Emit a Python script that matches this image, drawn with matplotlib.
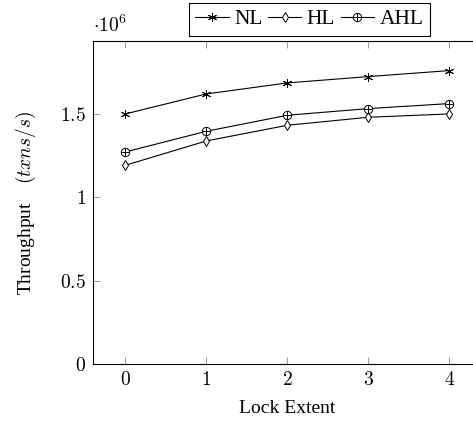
import matplotlib
matplotlib.use("Agg")
import matplotlib.pyplot as plt

plt.rcParams['font.family'] = ['Liberation Serif', 'DejaVu Serif']
plt.rcParams['mathtext.fontset'] = 'cm'

lock_extent = [0, 1, 2, 3, 4]
nl = [1.50, 1.62, 1.686, 1.724, 1.76]
hl = [1.192, 1.338, 1.432, 1.48, 1.50]
ahl = [1.272, 1.396, 1.492, 1.532, 1.562]
xticks = [0, 1, 2, 3, 4]
yticks = [0, 0.5, 1, 1.5]
ytick_labels = ['$0$', '$0.5$', '$1$', '$1.5$']

FS = 14

fig = plt.figure(figsize=(4.73, 4.23), dpi=100)
ax = fig.add_axes([0.1966, 0.1395, 0.8218, 0.763])

lw = 0.8
l_nl, = ax.plot(lock_extent, nl, color='black', lw=lw, marker=(6, 2, 0), ms=6.5, mew=0.7)
l_hl, = ax.plot(lock_extent, hl, color='black', lw=lw, marker='d', ms=5, mfc='white', mew=0.7)
l_ahl, = ax.plot(lock_extent, ahl, color='black', lw=lw, marker='o', ms=6, mfc='white', mew=0.7)
l_ahl2, = ax.plot(lock_extent, ahl, color='none', lw=0, marker='+', ms=6, mec='black', mew=0.7)

ax.set_xlim(-0.4, 4.4)
ax.set_ylim(0, 1.936)
ax.set_xticks(xticks)
ax.set_xticklabels([f'${t}$' for t in xticks])
ax.set_yticks(yticks)
ax.set_yticklabels(ytick_labels)
ax.tick_params(direction='in', length=5, width=0.6, color='#888888', labelsize=FS,
               top=True, right=True, pad=5)
for s in ax.spines.values():
    s.set_linewidth(0.8)

ax.set_xlabel('Lock Extent', fontsize=FS, labelpad=8)
ax.set_ylabel(r'Throughput $\;\;\; (txns/s)$', fontsize=FS, labelpad=16)

fig.text(93/473, 1 - 32/423, r'$\cdot 10^6$', fontsize=FS, ha='left', va='baseline')

leg = fig.legend([l_nl, l_hl, (l_ahl, l_ahl2)], ['NL', 'HL', 'AHL'],
                 loc='upper left', bbox_to_anchor=(189/473, 1 - 2.7/423),
                 bbox_transform=fig.transFigure, ncol=3, fontsize=15.5,
                 frameon=True, fancybox=False, framealpha=1, edgecolor='black',
                 handlelength=1.55, handletextpad=0.25, columnspacing=0.25,
                 borderpad=0.3, borderaxespad=0)
leg.get_frame().set_linewidth(0.8)

fig.savefig('out.png', dpi=100)
